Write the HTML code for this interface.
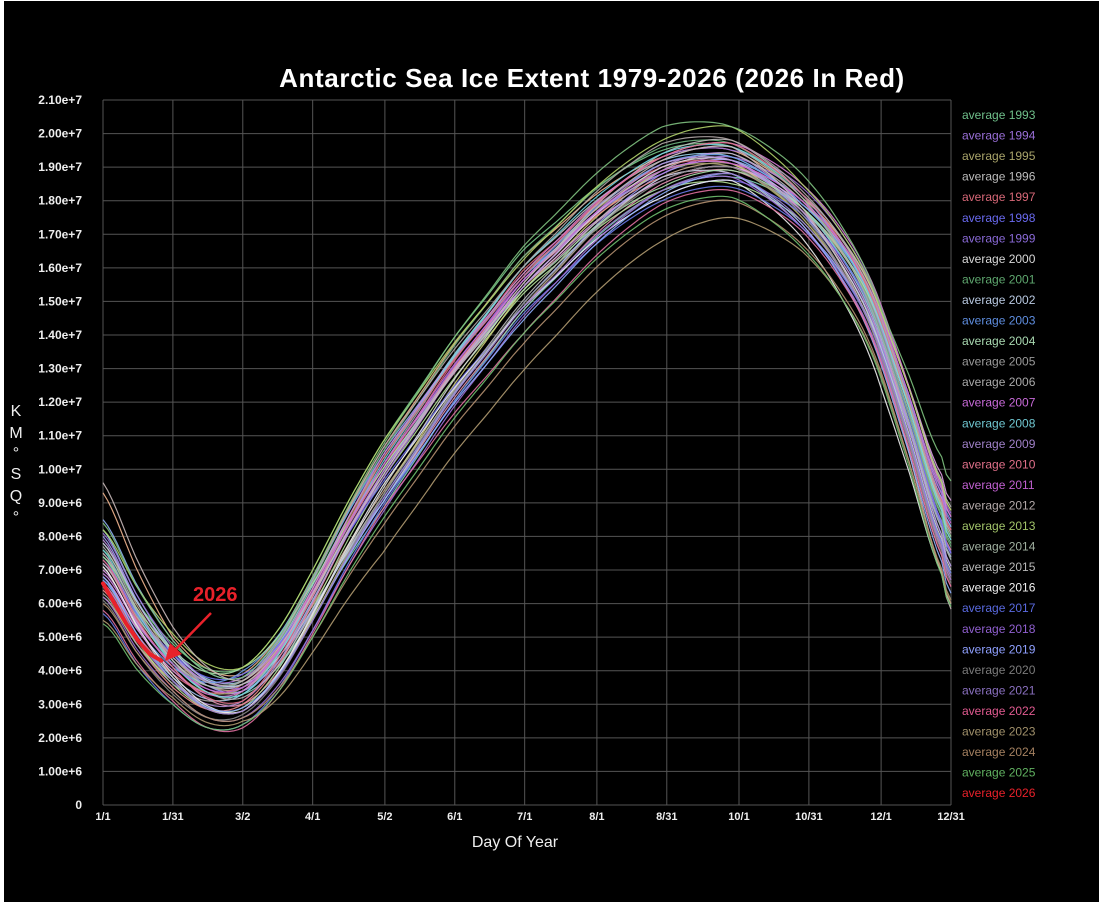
<!DOCTYPE html>
<html><head><meta charset="utf-8">
<style>
html,body{margin:0;padding:0;background:#fff;}
svg{display:block;font-family:"Liberation Sans",sans-serif;}
</style></head>
<body>
<svg id="chart" width="1101" height="906" viewBox="0 0 1101 906">
<rect x="4" y="1" width="1095" height="901" fill="#000"/>
<text x="592" y="87" fill="#fff" font-size="26" font-weight="bold" text-anchor="middle" letter-spacing="0.6">Antarctic Sea Ice Extent 1979-2026  (2026 In Red)</text>
<g id="grid"></g>
<g id="yticks"></g>
<g id="xticks"></g>
<g id="lines"></g>
<g id="legend"></g>
<text x="515" y="847" fill="#eee" font-size="16" text-anchor="middle">Day Of Year</text>
<g fill="#eee" font-size="16" text-anchor="middle">
<text x="16" y="416">K</text><text x="16" y="438">M</text><text x="16" y="458">°</text><text x="16" y="479">S</text><text x="16" y="501">Q</text><text x="16" y="522">°</text>
</g>
<text x="193" y="601" fill="#e8212a" font-size="20" font-weight="bold">2026</text>
<g>
<line x1="211" y1="613" x2="175" y2="650" stroke="#e8212a" stroke-width="2.5"/>
<polygon points="165,661 170,643 182,654" fill="#e8212a"/>
</g>
</svg>
<script>
const yTicks=[0,1,2,3,4,5,6,7,8,9,10,11,12,13,14,15,16,17,18,19,20,21];
const yTickLabels=["0","1.00e+6","2.00e+6","3.00e+6","4.00e+6","5.00e+6","6.00e+6","7.00e+6","8.00e+6","9.00e+6","1.00e+7","1.10e+7","1.20e+7","1.30e+7","1.40e+7","1.50e+7","1.60e+7","1.70e+7","1.80e+7","1.90e+7","2.00e+7","2.10e+7"];
const xTickDays=[0,30,60,90,121,151,181,212,242,273,303,334,364];
const xTickLabels=["1/1","1/31","3/2","4/1","5/2","6/1","7/1","8/1","8/31","10/1","10/31","12/1","12/31"];
const meanDays=[0,15,30,45,60,75,90,105,120,135,150,165,180,195,210,225,240,255,270,285,300,315,330,345,360,365];
const meanVals=[7.0,5.3,4.0,3.2,3.2,4.2,5.9,7.8,9.5,11.0,12.5,13.8,15.1,16.1,17.1,17.9,18.5,18.8,18.8,18.3,17.5,16.3,14.5,11.5,8.2,7.2];
const anomDays=[0,30,60,120,180,240,270,300,335,365];
const years=[1979,1980,1981,1982,1983,1984,1985,1986,1987,1988,1989,1990,1991,1992,1993,1994,1995,1996,1997,1998,1999,2000,2001,2002,2003,2004,2005,2006,2007,2008,2009,2010,2011,2012,2013,2014,2015,2016,2017,2018,2019,2020,2021,2022,2023,2024,2025];
const anomalies=[
[0.5,0.3,0.2,0.4,0.2,0.1,0.2,0.3,0.4,0.8],
[1.2,0.6,0.5,0.8,0.9,0.7,0.5,0.4,0.6,1.0],
[0.8,0.4,0.3,-0.2,-0.3,0.2,0.3,0.2,0.5,0.9],
[-0.3,-0.2,0.1,0.3,0.5,0.6,0.4,0.3,0.1,-0.2],
[0.2,0.1,-0.2,-0.5,-0.4,0.0,0.1,0.2,0.0,0.3],
[-0.5,-0.4,-0.3,0.2,0.1,-0.2,-0.3,-0.1,-0.3,-0.4],
[0.9,0.5,0.4,0.5,0.3,0.5,0.6,0.4,0.7,1.3],
[1.5,0.9,0.6,1.0,0.6,0.3,0.4,0.5,0.6,1.0],
[2.3,1.0,0.7,1.1,1.2,0.8,0.7,0.6,0.9,1.5],
[0.4,0.2,0.1,-0.7,-0.4,-0.2,-0.1,0.3,0.2,0.0],
[-0.8,-0.3,-0.4,-0.3,0.2,0.4,0.3,0.0,-0.4,-0.6],
[0.0,0.2,0.5,0.6,0.3,0.1,0.2,0.4,0.8,1.8],
[1.0,0.5,0.2,-0.4,-0.2,0.3,0.4,0.1,-0.1,0.2],
[-0.6,-0.5,-0.2,0.4,0.5,0.2,0.0,-0.2,-0.6,-0.8],
[0.6,0.8,0.9,1.3,1.4,1.0,0.8,0.6,0.2,0.5],
[0.3,0.4,0.6,0.2,0.5,0.3,0.5,0.7,0.4,0.2],
[-0.2,0.0,0.3,0.8,0.7,0.4,0.2,0.0,-0.3,-0.5],
[0.7,0.3,0.0,-0.3,-0.1,0.4,0.6,0.5,0.3,0.6],
[-0.4,-0.1,0.4,0.5,0.8,0.5,0.3,0.5,0.7,0.9],
[0.2,0.5,0.7,0.1,-0.3,-0.4,-0.2,0.1,0.3,0.2],
[1.1,0.7,0.3,0.4,0.6,0.8,0.7,0.9,1.0,1.4],
[0.1,-0.2,-0.4,-0.1,0.3,0.5,0.4,0.2,-0.2,-0.3],
[-0.1,0.2,0.5,1.0,1.2,1.1,0.9,0.6,0.3,0.4],
[0.8,0.6,0.4,-0.5,-0.2,0.2,0.0,-0.3,-0.2,0.1],
[-0.3,0.1,0.8,0.9,0.6,0.6,0.5,0.4,0.6,1.2],
[0.4,0.6,0.9,0.5,0.2,-0.1,0.1,0.3,0.5,0.7],
[-0.7,-0.4,0.2,0.6,0.9,0.7,0.8,0.6,0.2,0.0],
[0.2,0.3,0.4,0.3,0.4,0.9,1.0,0.7,0.9,1.6],
[-0.2,0.0,0.2,0.9,0.7,0.8,0.9,1.0,1.1,1.3],
[0.6,0.2,0.1,0.7,0.9,0.9,0.8,0.7,0.5,0.6],
[-0.4,-0.3,-0.1,0.4,0.3,0.6,0.4,0.2,0.0,-0.2],
[0.3,0.1,-0.1,0.8,0.6,0.8,0.9,0.7,0.6,0.9],
[-0.1,0.2,0.3,0.6,0.5,0.4,0.3,0.5,0.8,1.1],
[0.5,0.4,0.5,1.1,0.9,1.2,1.0,0.8,0.7,0.8],
[1.2,1.1,0.9,1.3,1.1,1.3,1.4,1.0,0.9,1.5],
[1.4,0.9,0.6,1.2,1.5,1.7,1.4,1.3,1.0,2.4],
[2.6,1.3,0.5,0.3,0.4,0.7,0.8,0.3,-0.4,-1.5],
[0.1,-0.1,-0.4,0.0,-0.3,-0.4,-0.2,-0.6,-1.4,-1.3],
[-1.3,-1.0,-0.8,-0.6,-0.5,-0.5,-0.4,-0.3,-0.3,-0.4],
[-0.8,-0.6,-0.6,-0.8,-0.6,-0.2,-0.1,-0.3,-0.5,-0.6],
[-0.2,-0.3,-0.3,-0.5,-0.7,-0.3,0.0,-0.2,-0.7,-1.0],
[-0.9,-0.7,-0.5,-0.3,-0.2,0.1,0.2,0.1,-0.4,-0.7],
[-0.5,-0.3,-0.4,-0.4,-0.3,-0.2,0.0,-0.1,-0.3,-0.5],
[-1.2,-0.9,-0.9,-0.7,-1.1,-0.6,-0.5,-0.4,-0.6,-0.8],
[-1.5,-0.8,-0.7,-2.0,-2.2,-1.7,-1.3,-1.0,-1.0,-1.2],
[-1.0,-0.6,-0.6,-1.2,-1.4,-1.0,-0.8,-0.8,-0.9,-1.3],
[-1.6,-1.0,-0.8,-1.0,-1.1,-0.8,-0.7,-0.9,-1.1,-1.4]
];
const colors=["#d9a6d0","#9ad3e6","#c5a88e","#a3c6f2","#e78fb3","#b7e39b","#c291e6","#8fb0f5","#f2b58f","#7fd1b9","#d2d27b","#e0a0e8","#9d9df0","#f08f8f","#79c98a","#b07ce0","#a9a46a","#b9b9b9","#d86878","#6f6ff0","#9b6fd8","#d8d8d8","#6fb27f","#b8c8e0","#6b9ee8","#a8e0a8","#a9a9a9","#bdbdbd","#d77ed6","#6fd6e0","#b690d8","#e0708a","#c86ad8","#b3a9a9","#b2d46a","#7fc27f","#c8b8b8","#f0f0f0","#6a7ae8","#a070d8","#8fb0ff","#8a8a8a","#9a80d0","#e070a0","#b09a70","#b49070","#70c070"];
const legendYears=[1993,1994,1995,1996,1997,1998,1999,2000,2001,2002,2003,2004,2005,2006,2007,2008,2009,2010,2011,2012,2013,2014,2015,2016,2017,2018,2019,2020,2021,2022,2023,2024,2025,2026];
const legendColors=["#6fbf8a","#9a6fd8","#a9a46a","#bdbdbd","#d86878","#6a6af0","#8a6ad8","#d8d8d8","#5fa86f","#b8c8e0","#5f8ee0","#a8d8b0","#9a9a9a","#a9a9a9","#c86ad8","#6fc6d0","#a080c8","#e0708a","#c060d0","#b3a9a9","#a2c46a","#a0b0a0","#b8b8b8","#f0f0f0","#5a6ae0","#9060d0","#8fa0ff","#7a7a7a","#8a70c0","#e05a90","#a0906a","#a48060","#60b060","#e8212a"];
const days2026=[0,5,10,15,20,25];
const vals2026=[6.6,6.0,5.4,4.9,4.5,4.3];

const NS="http://www.w3.org/2000/svg";
const X0=103,X1=951,Y0=805,Y1=100;
const xs=d=>X0+(X1-X0)*d/364;
const ys=v=>Y0-(Y0-Y1)*v/21;
function el(t,a,p){const e=document.createElementNS(NS,t);for(const k in a)e.setAttribute(k,a[k]);p.appendChild(e);return e;}
function interpMean(d){
  let i=0;while(i<meanDays.length-2&&d>meanDays[i+1])i++;
  const p0=meanVals[Math.max(0,i-1)],p1=meanVals[i],p2=meanVals[i+1],p3=meanVals[Math.min(meanVals.length-1,i+2)];
  const t=(d-meanDays[i])/(meanDays[i+1]-meanDays[i]);
  return 0.5*((2*p1)+(-p0+p2)*t+(2*p0-5*p1+4*p2-p3)*t*t+(-p0+3*p1-3*p2+p3)*t*t*t);
}
function interpA(arr,d){
  let i=0;while(i<anomDays.length-2&&d>anomDays[i+1])i++;
  const t=(d-anomDays[i])/(anomDays[i+1]-anomDays[i]);
  return arr[i]+(arr[i+1]-arr[i])*t;
}
const grid=document.getElementById('grid');
yTicks.forEach((v,i)=>{
  const g=el('line',{x1:X0,x2:X1,y1:ys(v),y2:ys(v),stroke:'#555','stroke-width':1},grid);
  
  
  const t=el('text',{x:82,y:ys(v)+4,fill:'#eee','font-size':12,'font-weight':'bold','text-anchor':'end'},document.getElementById('yticks'));
  t.textContent=yTickLabels[i];
  
  
});
xTickDays.forEach((d,i)=>{
  const g=el('line',{x1:xs(d),x2:xs(d),y1:Y1,y2:Y0,stroke:'#555','stroke-width':1},grid);
  
  
  const t=el('text',{x:xs(d),y:820,fill:'#eee','font-size':11,'font-weight':'bold','text-anchor':'middle'},document.getElementById('xticks'));
  t.textContent=xTickLabels[i];
  
  
});
const lines=document.getElementById('lines');
years.forEach((y,k)=>{
  let pts=[];
  for(let d=0;d<=364;d+=2){pts.push(xs(d).toFixed(1)+','+ys(interpMean(d)+interpA(anomalies[k],d)).toFixed(1));}
  const p=el('polyline',{points:pts.join(' '),fill:'none',stroke:colors[k],'stroke-width':1.2,'stroke-opacity':0.9},lines);
  
  
});
const p26=el('polyline',{points:days2026.map((d,i)=>xs(d)+','+ys(vals2026[i])).join(' '),fill:'none',stroke:'#e8212a','stroke-width':4,'stroke-linecap':'round'},lines);


const leg=document.getElementById('legend');
legendYears.forEach((y,i)=>{
  const t=el('text',{x:962,y:119+i*20.55,fill:legendColors[i],'font-size':12},leg);
  t.textContent='average '+y;
  
  
});
</script>
</body></html>
